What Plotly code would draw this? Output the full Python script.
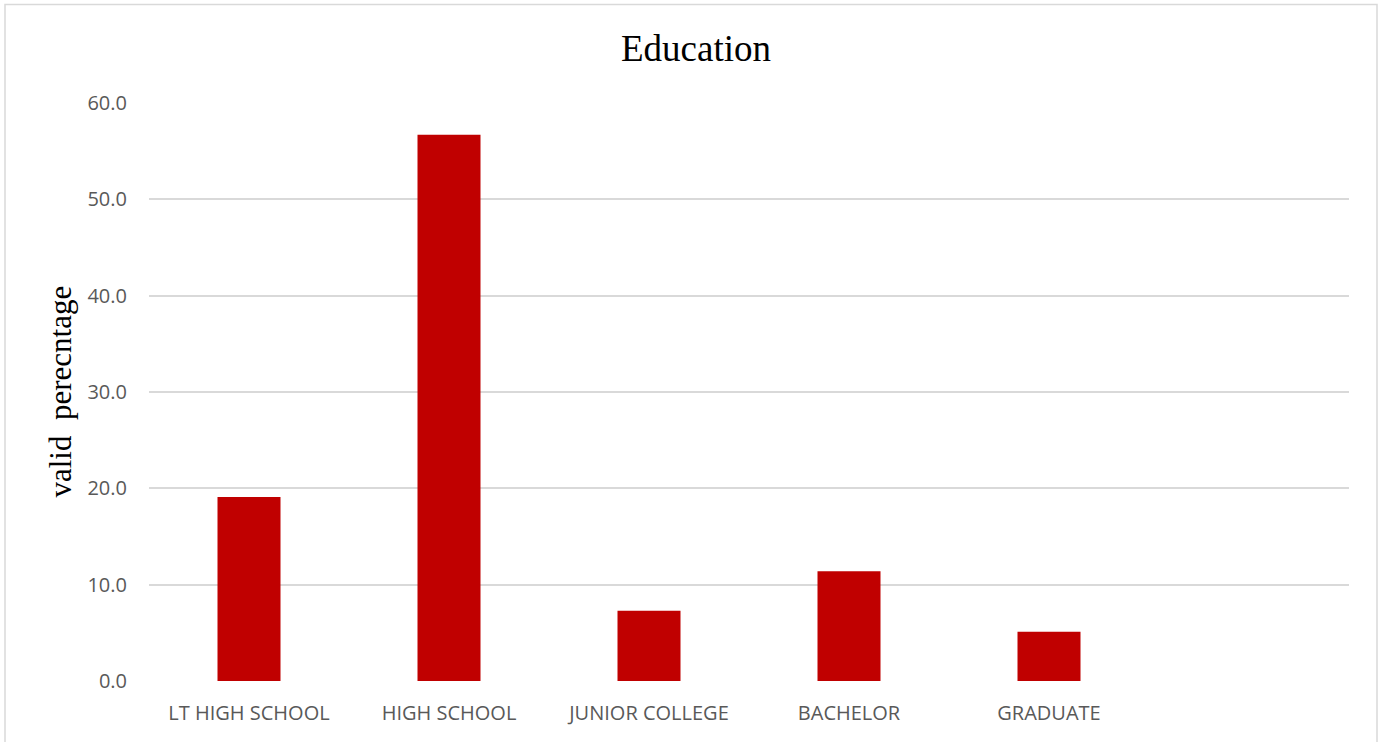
import plotly.graph_objects as go

categories = ["LT HIGH SCHOOL", "HIGH SCHOOL", "JUNIOR COLLEGE", "BACHELOR", "GRADUATE"]
values = [19.1, 56.7, 7.3, 11.4, 5.1]
y_ticks = [0, 10, 20, 30, 40, 50, 60]
y_tick_labels = ["0.0", "10.0", "20.0", "30.0", "40.0", "50.0", "60.0"]

fig = go.Figure()
fig.add_trace(go.Bar(x=categories, y=values, marker=dict(color="#C00000", line=dict(width=0)),
                     width=0.315))

fig.update_layout(
    width=1382, height=742,
    margin=dict(l=149, r=33, t=103, b=61),
    paper_bgcolor="white", plot_bgcolor="white",
    showlegend=False,
    title=dict(text="Education", x=696 / 1382, xref="container", xanchor="center", y=1 - 48 / 742,
               yref="container", yanchor="middle",
               font=dict(family="Liberation Serif", size=37, color="black")),
    xaxis=dict(range=[-0.5, 5.5], showgrid=False, zeroline=False, showline=False,
               tickfont=dict(family="Open Sans", size=20, color="#595959"),
               ticklabelstandoff=18),
    yaxis=dict(range=[0, 60], tickvals=y_ticks, ticktext=y_tick_labels,
               showgrid=True, gridcolor="#d9d9d9", gridwidth=1.5, zeroline=False, showline=False,
               tickfont=dict(family="Open Sans", size=20, color="#595959"),
               ticklabelstandoff=21),
    annotations=[dict(text="valid  perecntage", textangle=-90, x=(40 - 149) / 1200, y=(681 - 392) / 578,
                      xref="paper", yref="paper", showarrow=False,
                      font=dict(family="Liberation Serif", size=31, color="black"))],
    shapes=[dict(type="rect", xref="paper", yref="paper",
                 x0=(5 - 149) / 1200, x1=(1377 - 149) / 1200,
                 y0=(681 - 760) / 578, y1=(681 - 4.5) / 578,
                 line=dict(color="#d9d9d9", width=1.5), fillcolor="rgba(0,0,0,0)", layer="below")],
)

fig.write_html("out.html")
